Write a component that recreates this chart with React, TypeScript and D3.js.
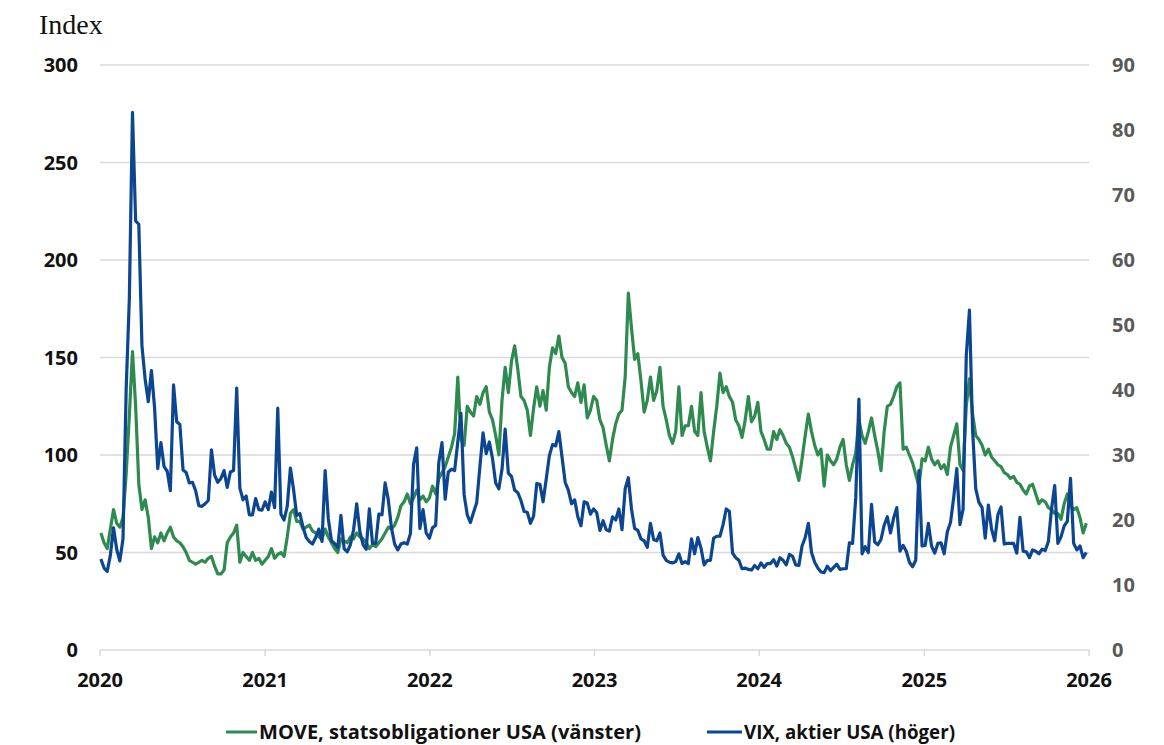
import React from "react";
import * as d3 from "d3";

// Weekly (Friday) readings, first week = 2020-01-03
const move2020 = [60, 55, 52, 62, 72, 65, 63, 68, 90, 120, 153, 125, 85, 72, 77, 68, 52, 58, 55, 60, 56, 60, 63, 58, 56, 55, 53, 50, 46, 45, 44, 45, 46, 45, 47, 48, 43, 39, 39, 41, 55, 58, 60, 64, 45, 50, 48, 46, 50, 46, 47, 44];
const move2021 = [46, 48, 52, 47, 49, 50, 48, 58, 70, 72, 66, 66, 62, 63, 64, 61, 60, 58, 57, 62, 58, 55, 52, 50, 57, 56, 55, 58, 57, 60, 58, 57, 55, 52, 54, 53, 55, 57, 60, 63, 62, 64, 68, 74, 76, 80, 75, 78, 82, 77, 79, 76, 78];
const move2022 = [84, 80, 88, 91, 94, 99, 104, 111, 140, 108, 105, 125, 122, 120, 130, 126, 132, 135, 122, 118, 110, 100, 128, 145, 132, 148, 156, 144, 130, 128, 123, 110, 124, 135, 125, 133, 123, 145, 155, 152, 161, 150, 147, 135, 132, 130, 137, 127, 136, 119, 123, 130];
const move2023 = [128, 118, 114, 105, 97, 108, 116, 121, 123, 140, 183, 165, 149, 152, 138, 122, 128, 140, 128, 133, 145, 125, 118, 110, 106, 112, 135, 110, 115, 115, 125, 112, 110, 132, 112, 104, 97, 112, 125, 142, 132, 135, 130, 127, 118, 115, 109, 118, 130, 117, 120, 127];
const move2024 = [112, 108, 103, 103, 112, 108, 113, 110, 106, 104, 99, 93, 87, 98, 110, 121, 112, 105, 100, 103, 84, 100, 97, 95, 98, 104, 108, 95, 87, 95, 101, 118, 110, 106, 112, 119, 110, 102, 92, 112, 125, 126, 130, 135, 137, 103, 104, 100, 96, 90, 84, 98];
const move2025 = [97, 104, 98, 95, 97, 93, 95, 90, 104, 110, 116, 95, 92, 125, 139, 121, 110, 108, 105, 100, 103, 99, 97, 95, 94, 91, 90, 88, 89, 86, 85, 82, 80, 84, 85, 80, 75, 77, 76, 73, 72, 70, 70, 67, 75, 80, 74, 72, 73, 68, 60, 65];

const vix2020 = [14.0, 12.6, 12.1, 14.6, 18.8, 15.5, 13.7, 17.1, 40.1, 54.0, 82.7, 66.0, 65.5, 46.8, 41.7, 38.2, 43.0, 37.2, 27.9, 31.9, 28.2, 27.5, 24.5, 40.8, 35.1, 34.7, 27.7, 27.3, 25.7, 25.8, 24.5, 22.2, 22.1, 22.5, 23.0, 30.8, 26.9, 25.8, 26.4, 27.6, 25.0, 27.4, 27.6, 40.3, 24.9, 23.1, 23.7, 20.8, 20.8, 23.3, 21.6, 21.5];
const vix2021 = [22.8, 21.6, 24.3, 21.9, 37.2, 20.9, 20.0, 22.1, 28.0, 24.7, 20.7, 21.0, 18.9, 17.3, 16.7, 16.3, 17.3, 18.6, 16.7, 27.6, 20.2, 16.8, 16.4, 15.7, 20.7, 15.6, 15.1, 16.2, 18.5, 22.5, 18.2, 16.2, 15.5, 21.7, 16.4, 16.4, 20.9, 20.8, 25.7, 23.1, 18.8, 16.3, 15.4, 16.3, 16.5, 16.3, 17.9, 28.6, 31.1, 18.7, 21.6, 18.0, 17.2];
const vix2022 = [18.8, 19.2, 28.9, 31.9, 23.2, 27.4, 27.8, 27.6, 32.0, 36.4, 23.9, 20.8, 19.6, 21.2, 22.7, 28.2, 33.4, 30.2, 32.0, 29.4, 25.7, 24.8, 27.8, 34.0, 27.2, 26.7, 24.6, 24.2, 23.0, 21.3, 21.2, 19.5, 20.6, 25.6, 25.5, 22.8, 26.3, 29.9, 31.6, 31.4, 33.6, 29.7, 25.8, 24.6, 22.5, 23.1, 20.5, 19.1, 22.8, 22.6, 20.9, 21.7];
const vix2023 = [21.1, 18.4, 19.9, 18.5, 18.3, 20.5, 20.0, 21.7, 18.5, 24.8, 26.5, 21.7, 18.7, 18.4, 17.1, 16.8, 15.8, 19.5, 17.0, 16.8, 18.0, 14.6, 13.8, 13.5, 13.4, 13.6, 14.8, 13.3, 13.6, 13.3, 17.1, 14.8, 17.3, 15.7, 13.1, 13.8, 13.8, 17.2, 17.5, 17.5, 19.3, 21.7, 21.3, 14.9, 14.2, 13.8, 12.5, 12.6, 12.4, 12.3, 13.0, 12.5];
const vix2024 = [13.4, 12.7, 13.3, 13.3, 13.9, 12.9, 14.2, 13.8, 13.1, 14.7, 14.4, 13.1, 13.0, 16.0, 17.3, 19.5, 15.0, 13.5, 12.6, 12.0, 11.9, 12.9, 12.2, 12.7, 13.2, 12.4, 12.5, 12.5, 16.5, 16.4, 23.4, 38.6, 14.8, 15.9, 15.0, 22.4, 16.6, 16.2, 17.0, 19.2, 20.5, 18.0, 20.3, 21.9, 15.2, 16.1, 15.2, 13.5, 12.8, 13.8, 27.6, 16.0];
const vix2025 = [16.1, 19.5, 16.0, 14.9, 16.4, 16.5, 14.8, 18.2, 19.6, 23.4, 27.9, 19.3, 21.7, 45.3, 52.3, 33.8, 24.8, 22.7, 21.9, 17.2, 22.3, 18.6, 16.8, 20.8, 22.0, 16.3, 16.4, 16.4, 16.4, 14.9, 20.4, 15.2, 15.1, 14.2, 15.4, 15.2, 14.8, 15.5, 15.3, 16.7, 21.7, 25.3, 16.4, 17.4, 19.1, 19.8, 26.4, 16.4, 15.4, 16.0, 14.2, 15.0];

const firstWeek = new Date(2020, 0, 3);
const yearTicks = [2020, 2021, 2022, 2023, 2024, 2025, 2026];
const leftTicks = [0, 50, 100, 150, 200, 250, 300];
const rightTicks = [0, 10, 20, 30, 40, 50, 60, 70, 80, 90];
const axisTitle = "Index";
const legendMove = "MOVE, statsobligationer USA (vänster)";
const legendVix = "VIX, aktier USA (höger)";

const moveValues = [...move2020, ...move2021, ...move2022, ...move2023, ...move2024, ...move2025];
const vixValues = [...vix2020, ...vix2021, ...vix2022, ...vix2023, ...vix2024, ...vix2025];

const GREEN = "#2f8a4f";
const BLUE = "#0d4690";
const GRID = "#d9d9d9";
const FONT = "'Open Sans', 'Noto Sans', sans-serif";

export default function App() {
  const W = 1164, H = 745;
  const x = d3.scaleTime().domain([new Date(2020, 0, 1), new Date(2026, 0, 1)]).range([100, 1089]);
  const yL = d3.scaleLinear().domain([0, 300]).range([650, 65]);
  const yR = d3.scaleLinear().domain([0, 90]).range([650, 65]);

  const moveData = moveValues.map((v, i) => ({ d: d3.timeDay.offset(firstWeek, 7 * i), v }));
  const vixData = vixValues.map((v, i) => ({ d: d3.timeDay.offset(firstWeek, 7 * i), v }));

  const moveLine = d3.line<{ d: Date; v: number }>().x(p => x(p.d)).y(p => yL(p.v))(moveData) || "";
  const vixLine = d3.line<{ d: Date; v: number }>().x(p => x(p.d)).y(p => yR(p.v))(vixData) || "";

  const [x0, x1] = x.range();

  return (
    <svg width={W} height={H} style={{ position: "absolute", left: 0, top: 0, background: "#fff" }} fontFamily={FONT}>
      <rect width={W} height={H} fill="#fff" />
      <text x={39} y={34} fontFamily="'Liberation Serif', 'DejaVu Serif', serif" fontSize={28} fill="#111">{axisTitle}</text>

      {leftTicks.filter(t => t > 0).map(t => (
        <line key={"g" + t} x1={x0} x2={x1} y1={yL(t)} y2={yL(t)} stroke={GRID} strokeWidth={1.5} />
      ))}
      <line x1={x0} x2={x1} y1={yL(0)} y2={yL(0)} stroke={GRID} strokeWidth={1.5} />
      {yearTicks.map(yr => (
        <line key={"t" + yr} x1={x(new Date(yr, 0, 1))} x2={x(new Date(yr, 0, 1))} y1={yL(0)} y2={yL(0) + 6} stroke={GRID} strokeWidth={1.5} />
      ))}

      {leftTicks.map(t => (
        <text key={"l" + t} x={78} y={yL(t)} dy="0.36em" textAnchor="end" fontSize={20} fontWeight={700} fill="#111">{t}</text>
      ))}
      {rightTicks.map(t => (
        <text key={"r" + t} x={1112} y={yR(t)} dy="0.36em" textAnchor="start" fontSize={20} fontWeight={700} fill="#595959">{t}</text>
      ))}
      {yearTicks.map(yr => (
        <text key={"x" + yr} x={x(new Date(yr, 0, 1))} y={687} textAnchor="middle" fontSize={20} fontWeight={700} fill="#111">{yr}</text>
      ))}

      <path d={moveLine} fill="none" stroke={GREEN} strokeWidth={3.2} strokeLinejoin="round" />
      <path d={vixLine} fill="none" stroke={BLUE} strokeWidth={3.2} strokeLinejoin="round" />

      <line x1={226} x2={257} y1={732} y2={732} stroke={GREEN} strokeWidth={3} />
      <text x={259} y={739} fontSize={20} fontWeight={700} fill="#111" textLength={382} lengthAdjust="spacingAndGlyphs">{legendMove}</text>
      <line x1={707} x2={742} y1={732} y2={732} stroke={BLUE} strokeWidth={3} />
      <text x={744} y={739} fontSize={20} fontWeight={700} fill="#111" textLength={211} lengthAdjust="spacingAndGlyphs">{legendVix}</text>
    </svg>
  );
}
